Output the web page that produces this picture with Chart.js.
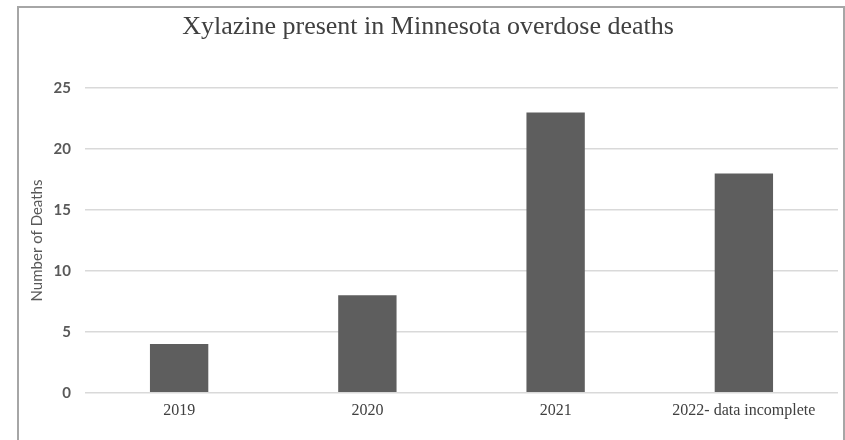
<!DOCTYPE html>
<html>
<head>
<meta charset="utf-8">
<script src="https://cdn.jsdelivr.net/npm/chart.js@4"></script>
<style>
    html, body {
        margin: 0;
        padding: 0;
        background: #ffffff;
    }

    #wrap {
        position: relative;
        width: 845px;
        height: 440px;
        overflow: hidden;
    }

    #xylazineChart {
        display: block;
    }

    #frame {
        position: absolute;
        left: 17px;
        top: 6px;
        width: 824px;
        height: 450px;
        border: 2px solid #a6a6a6;
        border-bottom: none;
        pointer-events: none;
    }
</style>
</head>
<body>
<div id="wrap">
    <canvas id="xylazineChart" width="845" height="440"></canvas>
    <div id="frame"></div>
</div>

<script>

// data
const years = [
    "2019",
    "2020",
    "2021",
    "2022- data incomplete"
];

const deaths = [4, 8, 23, 18];

const yTicks = [0, 5, 10, 15, 20, 25];

const chartTitle = "Xylazine present in Minnesota overdose deaths";
const yTitle = "Number of Deaths";

function createBarChart() {

    const ctx =
        document
            .getElementById("xylazineChart");

    new Chart(ctx, {

        type: "bar",

        data: {
            labels: years,
            datasets: [{
                label: yTitle,
                data: deaths,
                backgroundColor: "#5e5e5e",
                borderWidth: 0,
                categoryPercentage: 1,
                barPercentage: 0.31
            }]
        },

        options: {
            responsive: false,
            animation: false,
            layout: {
                padding: {
                    top: 0,
                    right: 7,
                    bottom: 12,
                    left: 18
                }
            },
            plugins: {
                legend: { display: false },
                tooltip: { enabled: false },
                title: {
                    display: true,
                    text: chartTitle,
                    color: "#404040",
                    font: {
                        family: "'Liberation Serif', 'Times New Roman', serif",
                        size: 26,
                        weight: "normal"
                    },
                    padding: { top: 12, bottom: 45 }
                }
            },
            scales: {
                x: {
                    grid: {
                        display: false,
                        drawTicks: false
                    },
                    border: { display: false },
                    ticks: {
                        color: "#404040",
                        padding: 8,
                        maxRotation: 0,
                        font: {
                            family: "'Liberation Serif', 'Times New Roman', serif",
                            size: 16
                        }
                    }
                },
                y: {
                    min: yTicks[0],
                    max: yTicks[yTicks.length - 1],
                    afterBuildTicks: (axis) => {
                        axis.ticks = yTicks.map(v => ({ value: v }));
                    },
                    afterFit: (axis) => {
                        axis.width = 67;
                    },
                    grid: {
                        color: "#d9d9d9",
                        lineWidth: 1.5,
                        drawTicks: false
                    },
                    border: { display: false },
                    ticks: {
                        color: "#595959",
                        padding: 14,
                        font: {
                            family: "Lato, 'Open Sans', sans-serif",
                            size: 15,
                            weight: "bold"
                        }
                    },
                    title: {
                        display: true,
                        text: yTitle,
                        color: "#595959",
                        padding: { top: 10, bottom: 0 },
                        font: {
                            family: "Lato, 'Open Sans', sans-serif",
                            size: 15
                        }
                    }
                }
            }
        }
    });
}

createBarChart();

</script>
</body>
</html>
